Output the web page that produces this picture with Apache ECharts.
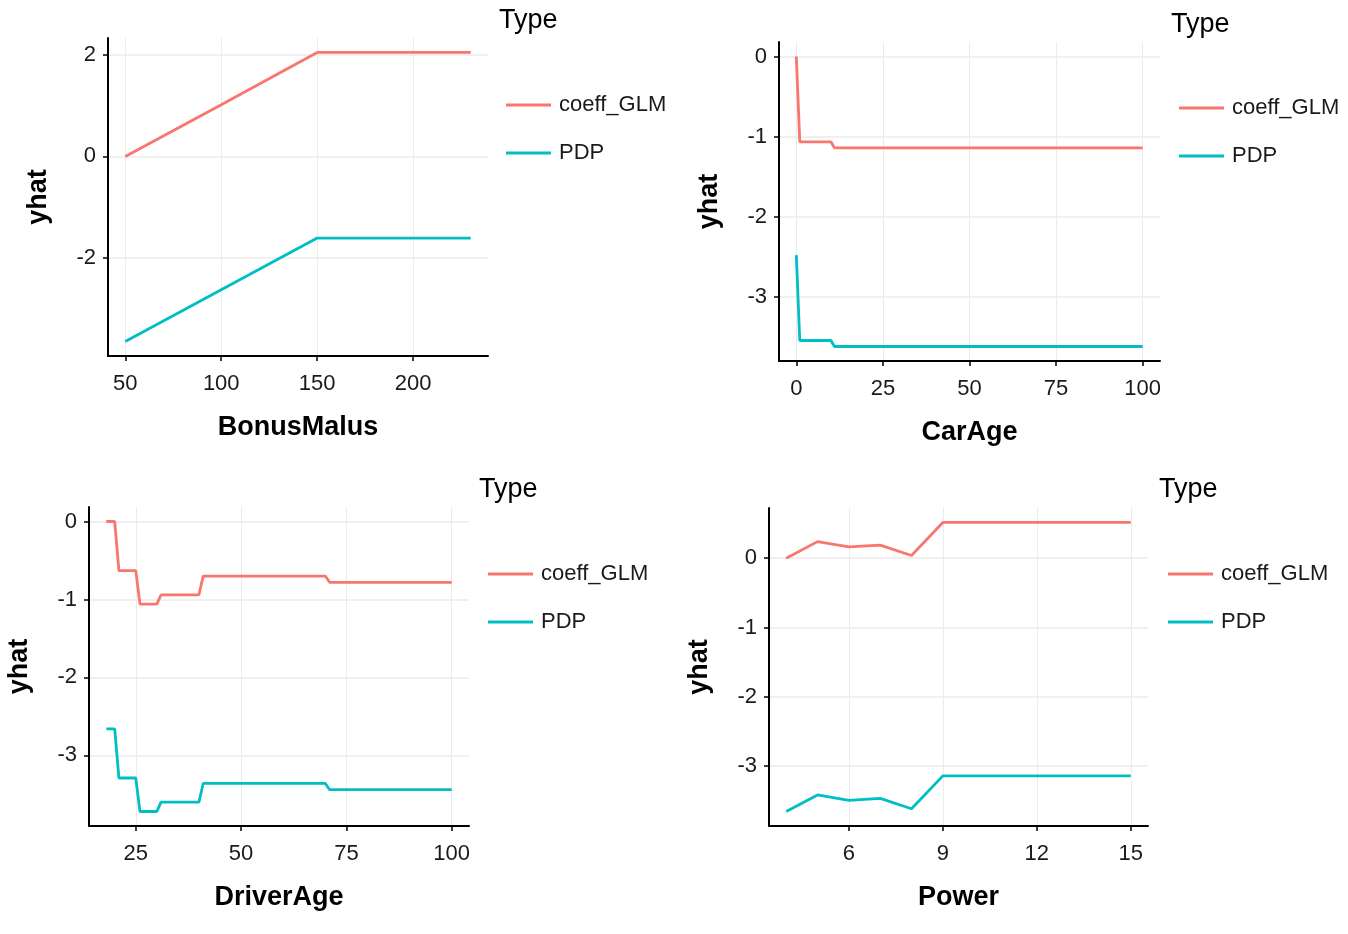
<!DOCTYPE html>
<html>
<head>
<meta charset="utf-8">
<style>
  html, body { margin: 0; padding: 0; background: #fff; }
  #chart { width: 1348px; height: 934px; }
</style>
<script src="https://cdn.jsdelivr.net/npm/echarts@6/dist/echarts.min.js"></script>
</head>
<body>
<div id="chart"></div>
<script>
// ---------------- data ----------------
const seriesNames = ['coeff_GLM', 'PDP'];

const bonusMalus    = [50, 100, 150, 230];
const bonusMalusGLM = [0, 1.02, 2.05, 2.05];
const bonusMalusPDP = [-3.65, -2.63, -1.61, -1.61];

const carAge    = [0, 1, 10, 11, 100];
const carAgeGLM = [0, -1.065, -1.065, -1.14, -1.14];
const carAgePDP = [-2.48, -3.545, -3.545, -3.62, -3.62];

const driverAge    = [18, 20, 21, 25, 26, 30, 31, 40, 41, 70, 71, 100];
const driverAgeGLM = [0, 0, -0.63, -0.63, -1.06, -1.06, -0.94, -0.94, -0.70, -0.70, -0.78, -0.78];
const driverAgePDP = [-2.66, -2.66, -3.29, -3.29, -3.72, -3.72, -3.60, -3.60, -3.36, -3.36, -3.44, -3.44];

const power    = [4, 5, 6, 7, 8, 9, 10, 11, 12, 13, 14, 15];
const powerGLM = [0, 0.24, 0.165, 0.19, 0.04, 0.517, 0.517, 0.517, 0.517, 0.517, 0.517, 0.517];
const powerPDP = [-3.66, -3.42, -3.50, -3.47, -3.62, -3.145, -3.145, -3.145, -3.145, -3.145, -3.145, -3.145];

const bonusMalusTicks = [50, 100, 150, 200];
const carAgeTicks     = [0, 25, 50, 75, 100];
const driverAgeTicks  = [25, 50, 75, 100];
const powerTicks      = [6, 9, 12, 15];
const yTicksTop       = [-2, 0, 2];
const yTicksOther     = [-3, -2, -1, 0];

// ---------------- layout / style ----------------
const FONT = 'Liberation Sans, Arial, sans-serif';
const COLORS = ['#F8766D', '#00BFC4'];

const panels = [
  { name: 'BonusMalus', x: bonusMalus, glm: bonusMalusGLM, pdp: bonusMalusPDP, xt: bonusMalusTicks, yt: yTicksTop,
    grid: { left: 108, top: 38, width: 380, height: 318 }, legend: { left: 506, top: 93 }, title: { left: 499, top: 7 } },
  { name: 'CarAge', x: carAge, glm: carAgeGLM, pdp: carAgePDP, xt: carAgeTicks, yt: yTicksOther,
    grid: { left: 779, top: 42, width: 381, height: 319 }, legend: { left: 1179, top: 96 }, title: { left: 1171, top: 11 } },
  { name: 'DriverAge', x: driverAge, glm: driverAgeGLM, pdp: driverAgePDP, xt: driverAgeTicks, yt: yTicksOther,
    grid: { left: 89, top: 507, width: 380, height: 319 }, legend: { left: 488, top: 562 }, title: { left: 479, top: 476 } },
  { name: 'Power', x: power, glm: powerGLM, pdp: powerPDP, xt: powerTicks, yt: yTicksOther,
    grid: { left: 769, top: 508, width: 379, height: 318 }, legend: { left: 1168, top: 562 }, title: { left: 1159, top: 476 } }
];

function expand(vals) {
  const lo = Math.min.apply(null, vals), hi = Math.max.apply(null, vals);
  const pad = (hi - lo) * 0.05;
  return [lo - pad, hi + pad];
}

const grids = [], xAxes = [], yAxes = [], series = [], legends = [], titles = [];

panels.forEach((p, i) => {
  grids.push(Object.assign({ containLabel: false }, p.grid));
  const xr = expand(p.x);
  const yr = expand(p.glm.concat(p.pdp));
  xAxes.push({
    type: 'value', gridIndex: i, min: xr[0], max: xr[1],
    name: p.name, nameLocation: 'middle', nameGap: 58,
    nameTextStyle: { fontFamily: FONT, fontSize: 27, fontWeight: 'bold', color: '#000' },
    axisLine: { show: true, onZero: false, lineStyle: { color: '#000', width: 2 } },
    axisTick: { show: true, length: 5, customValues: p.xt, lineStyle: { color: '#000', width: 1.5 } },
    axisLabel: { customValues: p.xt, margin: 17, fontFamily: FONT, fontSize: 22, color: '#1a1a1a' },
    splitLine: { show: true, lineStyle: { color: '#ebebeb', width: 1 } }
  });
  yAxes.push({
    type: 'value', gridIndex: i, min: yr[0], max: yr[1],
    name: 'yhat', nameLocation: 'middle', nameGap: 56,
    nameTextStyle: { fontFamily: FONT, fontSize: 27, fontWeight: 'bold', color: '#000' },
    axisLine: { show: true, onZero: false, lineStyle: { color: '#000', width: 2 } },
    axisTick: { show: true, length: 5, customValues: p.yt, lineStyle: { color: '#000', width: 1.5 } },
    axisLabel: { customValues: p.yt, margin: 12, fontFamily: FONT, fontSize: 22, color: '#1a1a1a' },
    splitLine: { show: true, lineStyle: { color: '#ebebeb', width: 1.5 } }
  });
  [p.glm, p.pdp].forEach((vals, k) => {
    series.push({
      name: seriesNames[k], type: 'line', xAxisIndex: i, yAxisIndex: i,
      data: p.x.map((xv, j) => [xv, vals[j]]),
      showSymbol: false, symbol: 'none',
      lineStyle: { color: COLORS[k], width: 2.8 },
      itemStyle: { color: COLORS[k] },
      emphasis: { disabled: true }
    });
  });
  legends.push({
    orient: 'vertical', left: p.legend.left, top: p.legend.top, padding: 0,
    data: seriesNames, icon: 'rect', itemWidth: 45, itemHeight: 3, itemGap: 24,
    textStyle: { fontFamily: FONT, fontSize: 22, lineHeight: 24, color: '#1a1a1a', padding: [0, 0, 0, 3] },
    selectedMode: false
  });
  titles.push({
    text: 'Type', left: p.title.left, top: p.title.top, padding: 0,
    textStyle: { fontFamily: FONT, fontSize: 27, fontWeight: 'normal', color: '#000' }
  });
});

const chart = echarts.init(document.getElementById('chart'));
chart.setOption({
  animation: false,
  backgroundColor: '#fff',
  title: titles,
  legend: legends,
  grid: grids,
  xAxis: xAxes,
  yAxis: yAxes,
  series: series
});
</script>
</body>
</html>
